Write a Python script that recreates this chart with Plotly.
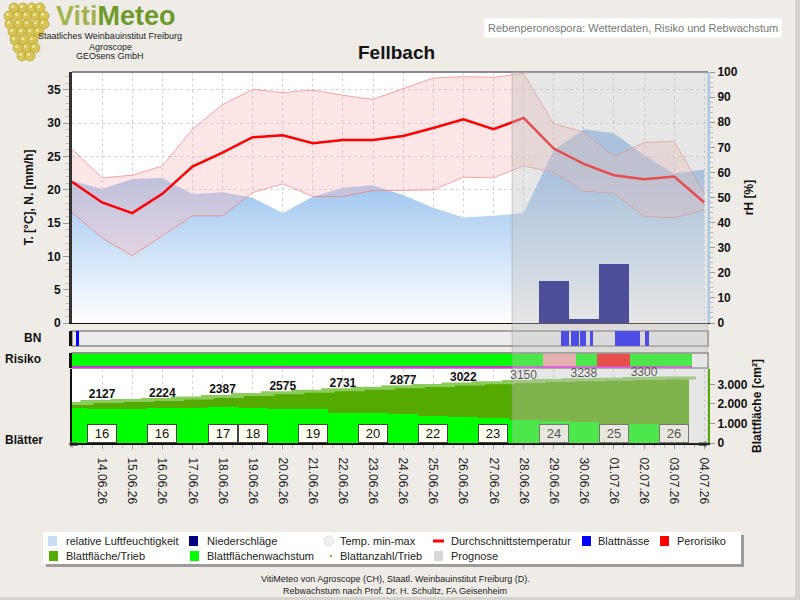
import plotly.graph_objects as go
import pandas as pd

FONT = "Liberation Sans, Arial, sans-serif"

# ---------------- data ----------------
dates = [d.strftime("%Y-%m-%d") for d in pd.date_range("2026-06-13", "2026-07-04", freq="D")]
tick_dates = dates[1:]
tick_text = [pd.Timestamp(d).strftime("%d.%m.%y") for d in tick_dates]
x_range = ["2026-06-13 00:00", "2026-07-04 03:00"]
prognose_start = "2026-06-27 14:50"

t_avg = [21.2, 18.1, 16.5, 19.4, 23.5, 25.6, 27.9, 28.2, 27.0, 27.5, 27.5,
         28.1, 29.3, 30.6, 29.1, 30.8, 26.2, 23.9, 22.2, 21.6, 22.0, 18.1]
t_max = [26.1, 21.8, 22.2, 23.6, 29.1, 32.8, 35.1, 34.6, 35.0, 34.2, 33.6,
         35.2, 36.8, 37.0, 36.9, 37.5, 29.9, 28.7, 25.0, 27.1, 27.3, 19.5]
t_min = [16.6, 12.8, 10.1, 13.1, 16.1, 16.1, 19.6, 20.9, 19.0, 19.0, 19.9,
         19.9, 20.0, 21.9, 21.8, 23.6, 22.6, 19.8, 19.5, 16.0, 15.8, 17.0]
rel_hum = [56.7, 53.4, 57.4, 57.8, 51.4, 52.1, 49.9, 43.8, 50.3, 53.9, 54.9,
           51.0, 45.9, 42.0, 42.7, 43.7, 68.9, 77.2, 75.6, 66.9, 59.6, 61.2]
precip_dates = ["2026-06-29", "2026-06-30", "2026-07-01"]
precip = [6.3, 0.6, 8.9]

leaf_dates = dates[:21]
leaf_area = [2025, 2127, 2175, 2224, 2305, 2387, 2480, 2575, 2655, 2731, 2805,
             2877, 2950, 3022, 3088, 3150, 3196, 3238, 3270, 3300, 3325]
leaf_growth = [94, 91, 91, 95, 95, 98, 94, 91, 91, 82, 80,
               78, 74, 71, 68, 62, 59, 56, 50, 52, 47]
label_idx = list(range(1, 21, 2))

leaf_count_dates = ["2026-06-14", "2026-06-16", "2026-06-18", "2026-06-19", "2026-06-21",
                    "2026-06-23", "2026-06-25", "2026-06-27", "2026-06-29", "2026-07-01", "2026-07-03"]
leaf_count = [16, 16, 17, 18, 19, 20, 22, 23, 24, 25, 26]

bn_start = ["2026-06-13 03:00", "2026-06-29 06:00", "2026-06-29 14:00", "2026-06-29 21:00",
            "2026-06-30 05:00", "2026-07-01 01:00", "2026-07-02 01:00"]
bn_end = ["2026-06-13 05:30", "2026-06-29 12:15", "2026-06-29 20:00", "2026-06-30 02:00",
          "2026-06-30 07:30", "2026-07-01 21:00", "2026-07-02 04:00"]

risk_start = ["2026-06-13 00:00", "2026-06-27 14:50", "2026-06-28 15:30",
              "2026-06-29 17:45", "2026-06-30 10:30", "2026-07-01 13:00"]
risk_end = ["2026-06-27 14:50", "2026-06-28 15:30", "2026-06-29 17:45",
            "2026-06-30 10:30", "2026-07-01 13:00", "2026-07-03 14:30"]
risk_level = [0, 0, 1, 0, 2, 0]
risk_colors = {0: "#00ff00", 1: "#faa5a5", 2: "#ff0000"}

legend_row1 = ["relative Luftfeuchtigkeit", "Niederschläge", "Temp. min-max",
               "Durchschnittstemperatur", "Blattnässe", "Perorisiko"]
legend_row2 = ["Blattfläche/Trieb", "Blattflächenwachstum", "Blattanzahl/Trieb", "Prognose"]

DAY_MS = 86400000


def dur_ms(s, e):
    return (pd.Timestamp(e) - pd.Timestamp(s)).total_seconds() * 1000


def px(x):
    return x / 800.0


def py(y):
    return 1 - y / 600.0


XD = [px(72), px(708)]
fig = go.Figure()

# ---- main plot ----
fig.add_trace(go.Scatter(x=dates, y=rel_hum, xaxis="x", yaxis="y", mode="lines",
                         line=dict(width=0), fill="tozeroy",
                         fillgradient=dict(type="vertical", start=0, stop=58,
                                           colorscale=[[0, "#ffffff"], [1, "#9cc4ee"]]),
                         showlegend=False, hoverinfo="skip"))
fig.add_trace(go.Bar(x=precip_dates, y=precip, width=DAY_MS, xaxis="x", yaxis="y2",
                     marker=dict(color="#000080", line=dict(width=0)), showlegend=False))
fig.add_trace(go.Scatter(x=dates, y=t_max, xaxis="x", yaxis="y2", mode="lines",
                         line=dict(color="rgba(240,110,110,0.6)", width=1), showlegend=False))
fig.add_trace(go.Scatter(x=dates, y=t_min, xaxis="x", yaxis="y2", mode="lines",
                         line=dict(color="rgba(240,110,110,0.6)", width=1), fill="tonexty",
                         fillcolor="rgba(255,185,185,0.36)", showlegend=False))
fig.add_trace(go.Scatter(x=dates, y=t_avg, xaxis="x", yaxis="y2", mode="lines",
                         line=dict(color="#ff0000", width=2.5), showlegend=False))

# ---- BN row ----
fig.add_trace(go.Bar(x=bn_start, y=[1] * len(bn_start), base=0, offset=0,
                     width=[dur_ms(s, e) for s, e in zip(bn_start, bn_end)],
                     xaxis="x2", yaxis="y3", marker=dict(color="#0000ff", line=dict(width=0)),
                     showlegend=False))

# ---- risk row ----
fig.add_trace(go.Bar(x=risk_start, y=[1] * len(risk_start), base=0, offset=0,
                     width=[dur_ms(s, e) for s, e in zip(risk_start, risk_end)],
                     xaxis="x3", yaxis="y4",
                     marker=dict(color=[risk_colors[r] for r in risk_level], line=dict(width=0)),
                     showlegend=False))
fig.add_trace(go.Scatter(x=[risk_start[0], risk_end[-1]], y=[0, 0], xaxis="x3", yaxis="y4",
                         mode="lines", line=dict(color="#ff00ff", width=1.5), showlegend=False))

# ---- leaf plot ----
fig.add_trace(go.Bar(x=leaf_dates, y=leaf_area, width=DAY_MS, xaxis="x4", yaxis="y5",
                     marker=dict(color="#55aa00", line=dict(width=0)), showlegend=False))
fig.add_trace(go.Scatter(x=leaf_dates, y=leaf_area, xaxis="x4", yaxis="y5", mode="markers",
                         marker=dict(symbol="line-ew", size=31, color="#8ccc5c",
                                     line=dict(color="#8ccc5c", width=3)),
                         showlegend=False))
fig.add_trace(go.Scatter(x=[leaf_dates[i] for i in label_idx], y=[leaf_area[i] for i in label_idx],
                         xaxis="x4", yaxis="y5", mode="text",
                         text=[(f"<b>{leaf_area[i]}</b>" if leaf_dates[i] < prognose_start
                                else f"{leaf_area[i]}") for i in label_idx],
                         textposition="top center",
                         textfont=dict(family=FONT, size=12, color="#111"),
                         showlegend=False, cliponaxis=False))
fig.add_trace(go.Bar(x=leaf_dates, y=leaf_growth, width=DAY_MS, xaxis="x4", yaxis="y6",
                     marker=dict(color="#00ff00", line=dict(width=0)), showlegend=False))

tickfont_b = dict(family=FONT, size=12, color="#111", weight="bold")
titlefont_b = dict(family=FONT, size=12, color="#111", weight="bold")

fig.update_layout(
    width=800, height=600, margin=dict(l=0, r=0, t=0, b=0, autoexpand=False),
    paper_bgcolor="#efece8", plot_bgcolor="#ffffff",
    barmode="overlay", bargap=0, separators=",.",
    font=dict(family=FONT, size=12, color="#111"),
    showlegend=False,
    xaxis=dict(domain=XD, type="date", range=x_range, anchor="y",
               tickvals=tick_dates, showticklabels=False, ticks="",
               showgrid=True, gridcolor="#d4d4d4", griddash="dot", gridwidth=1,
               showline=True, linecolor="#111", linewidth=1, zeroline=False),
    xaxis2=dict(domain=XD, type="date", matches="x", anchor="y3", showticklabels=False,
                ticks="", showgrid=False, showline=False, zeroline=False),
    xaxis3=dict(domain=XD, type="date", matches="x", anchor="y4", showticklabels=False,
                ticks="", showgrid=False, showline=False, zeroline=False),
    xaxis4=dict(domain=XD, type="date", matches="x", anchor="y5",
                tickvals=tick_dates, ticktext=tick_text, tickangle=90,
                tickfont=dict(family=FONT, size=12, color="#222"),
                ticks="outside", ticklen=4, tickcolor="#999", ticklabelstandoff=6,
                minor=dict(ticks="outside", ticklen=3, tickcolor="#bbb", dtick=28800000),
                showgrid=True, gridcolor="#d4d4d4", griddash="dot",
                showline=True, linecolor="#111", linewidth=2, zeroline=False),
    yaxis=dict(domain=[py(323), py(72)], anchor="x", side="right", range=[0, 100],
               tickvals=list(range(0, 101, 10)), ticks="outside", ticklen=5, tickcolor="#999",
               tickfont=tickfont_b, showgrid=False, zeroline=False,
               showline=True, linecolor="#a8c8ec", linewidth=2,
               minor=dict(ticks="outside", ticklen=3, tickcolor="#bbb", dtick=2),
               title=dict(text="rH [%]", font=titlefont_b, standoff=8)),
    yaxis2=dict(overlaying="y", anchor="x", side="left", range=[0, 37.7], dtick=5,
                ticks="outside", ticklen=6, tickcolor="#999", tickfont=tickfont_b,
                showgrid=True, gridcolor="#d4d4d4", griddash="dot", zeroline=False,
                showline=True, linecolor="#333", linewidth=3,
                minor=dict(ticks="outside", ticklen=3, tickcolor="#bbb", dtick=1),
                title=dict(text="T. [°C], N. [mm/h]", font=titlefont_b, standoff=12)),
    yaxis3=dict(domain=[py(346), py(331)], anchor="x2", range=[0, 1], showticklabels=False,
                ticks="", showgrid=False, zeroline=False,
                showline=True, linecolor="#111", linewidth=3),
    yaxis4=dict(domain=[py(368), py(353)], anchor="x3", range=[-0.08, 1], showticklabels=False,
                ticks="", showgrid=False, zeroline=False,
                showline=True, linecolor="#111", linewidth=3),
    yaxis5=dict(domain=[py(443), py(369)], anchor="x4", side="right", range=[0, 3790],
                tickvals=[0, 1000, 2000, 3000], tickformat=",.0f",
                ticks="outside", ticklen=5, tickcolor="#999", tickfont=tickfont_b,
                showgrid=False, zeroline=False,
                showline=True, linecolor="#55aa00", linewidth=2,
                title=dict(text="Blattfläche [cm²]", font=titlefont_b, standoff=6)),
    yaxis6=dict(overlaying="y5", anchor="x4", side="left", range=[0, 200],
                showticklabels=False, ticks="", showgrid=False, zeroline=False,
                showline=True, linecolor="#111", linewidth=2),
)

shapes = []
# row backgrounds
shapes.append(dict(type="rect", xref="x2 domain", yref="y3 domain", x0=0, x1=1, y0=0, y1=1,
                   fillcolor="#ececec", line=dict(color="#8a8a8a", width=1.5), layer="below"))
shapes.append(dict(type="rect", xref="x3 domain", yref="y4 domain", x0=0, x1=1, y0=0, y1=1,
                   fillcolor="#ffffff", line=dict(color="#8a8a8a", width=1.5), layer="below"))
shapes.append(dict(type="line", xref="x3 domain", yref="y4 domain", x0=0, x1=1, y0=1, y1=1,
                   line=dict(color="#8a8a8a", width=1.5), layer="above"))
# main plot top border
shapes.append(dict(type="line", xref="x domain", yref="y domain", x0=0, x1=1, y0=1, y1=1,
                   line=dict(color="#8a8a8a", width=2), layer="above"))
# prognose overlay
shapes.append(dict(type="rect", xref="x", yref="paper", x0=prognose_start, x1=x_range[1],
                   y0=py(443), y1=py(72), fillcolor="rgba(192,192,192,0.4)",
                   line=dict(color="rgba(150,150,150,0.45)", width=1), layer="above"))
# page edges
shapes.append(dict(type="rect", xref="paper", yref="paper", x0=px(795), x1=1, y0=0, y1=1,
                   fillcolor="#d6d3cf", line=dict(width=0), layer="below"))
shapes.append(dict(type="rect", xref="paper", yref="paper", x0=0, x1=1, y0=0, y1=py(597),
                   fillcolor="#d6d3cf", line=dict(width=0), layer="below"))

# logo grapes (decorative)
grape_rows = [(8, [14, 23, 32, 40]), (16, [9, 18, 27, 36, 44]), (24, [10, 19, 28, 37, 44]),
              (32, [13, 22, 31, 39]), (40, [15, 24, 33]), (48, [18, 27, 35]), (56, [22, 30])]
for gy, gxs in grape_rows:
    for gx in gxs:
        shapes.append(dict(type="circle", xref="paper", yref="paper",
                           x0=px(gx - 5), x1=px(gx + 5), y0=py(gy + 5), y1=py(gy - 5),
                           fillcolor="#d6c454", line=dict(color="#b29a32", width=0.6),
                           layer="below"))
        shapes.append(dict(type="circle", xref="paper", yref="paper",
                           x0=px(gx - 3), x1=px(gx), y0=py(gy), y1=py(gy - 3),
                           fillcolor="#f1e8a6", line=dict(width=0), layer="below"))

# legend box
shapes.append(dict(type="rect", xref="paper", yref="paper", x0=px(46), x1=px(744),
                   y0=py(567), y1=py(535), fillcolor="rgba(60,60,60,0.45)",
                   line=dict(width=0), layer="below"))
shapes.append(dict(type="rect", xref="paper", yref="paper", x0=px(43), x1=px(741),
                   y0=py(564), y1=py(532), fillcolor="#ffffff", line=dict(width=0),
                   layer="below"))

annotations = []
row1_sym = [48, 189, 324, 433, 582, 660]
row1_txt = [64, 205, 338, 449, 596, 675]
row1_style = [("sq", "#c6ddf4"), ("sq", "#000080"), ("circ", "#f0f0f0"), ("line", "#ff0000"),
              ("sq", "#0000ff"), ("sq", "#ff0000")]
row2_sym = [49, 190, 327, 434]
row2_txt = [64, 205, 338, 449]
row2_style = [("sq", "#55aa00"), ("sq", "#00ff00"), ("dot", "#55aa00"), ("sq", "#d8d8d8")]


def legend_item(label, sx, tx, style, yc):
    kind, col = style
    if kind == "sq":
        shapes.append(dict(type="rect", xref="paper", yref="paper", x0=px(sx), x1=px(sx + 9),
                           y0=py(yc + 5), y1=py(yc - 5), fillcolor=col,
                           line=dict(width=0), layer="above"))
    elif kind == "circ":
        shapes.append(dict(type="circle", xref="paper", yref="paper", x0=px(sx), x1=px(sx + 10),
                           y0=py(yc + 5), y1=py(yc - 5), fillcolor=col,
                           line=dict(color="#e4e4e4", width=1), layer="above"))
    elif kind == "line":
        shapes.append(dict(type="line", xref="paper", yref="paper", x0=px(sx), x1=px(sx + 11),
                           y0=py(yc), y1=py(yc), line=dict(color=col, width=3), layer="above"))
    elif kind == "dot":
        shapes.append(dict(type="circle", xref="paper", yref="paper", x0=px(sx + 3), x1=px(sx + 5),
                           y0=py(yc + 1), y1=py(yc - 1), fillcolor=col,
                           line=dict(width=0), layer="above"))
    annotations.append(dict(xref="paper", yref="paper", x=px(tx), y=py(yc), text=label,
                            showarrow=False, xanchor="left", yanchor="middle",
                            font=dict(family=FONT, size=11, color="#222")))


for lab, sx, tx, st in zip(legend_row1, row1_sym, row1_txt, row1_style):
    legend_item(lab, sx, tx, st, 541)
for lab, sx, tx, st in zip(legend_row2, row2_sym, row2_txt, row2_style):
    legend_item(lab, sx, tx, st, 556)

# titles and header
annotations += [
    dict(xref="paper", yref="paper", x=px(396), y=py(52), text="<b>Fellbach</b>", showarrow=False,
         font=dict(family=FONT, size=19, color="#111"), xanchor="center", yanchor="middle"),
    dict(xref="paper", yref="paper", x=px(633), y=py(28),
         text="Rebenperonospora: Wetterdaten, Risiko und Rebwachstum", showarrow=False,
         font=dict(family=FONT, size=11, color="#777"), bgcolor="#ffffff", borderpad=3,
         xanchor="center", yanchor="middle"),
    dict(xref="paper", yref="paper", x=px(116), y=1, borderpad=0,
         text="<b><span style='color:#a3b44e'>Viti</span><span style='color:#6f9a2a'>Meteo</span></b>",
         showarrow=False, font=dict(family=FONT, size=27), xanchor="center", yanchor="top"),
    dict(xref="paper", yref="paper", x=px(110), y=py(36.5), text="Staatliches Weinbauinstitut Freiburg",
         showarrow=False, font=dict(family=FONT, size=9, color="#222"), xanchor="center", yanchor="middle"),
    dict(xref="paper", yref="paper", x=px(110), y=py(46.5), text="Agroscope",
         showarrow=False, font=dict(family=FONT, size=9, color="#222"), xanchor="center", yanchor="middle"),
    dict(xref="paper", yref="paper", x=px(110), y=py(56), text="GEOsens GmbH",
         showarrow=False, font=dict(family=FONT, size=9, color="#222"), xanchor="center", yanchor="middle"),
    dict(xref="paper", yref="paper", x=px(43), y=py(338), text="<b>BN</b>", showarrow=False,
         font=dict(family=FONT, size=12, color="#111"), xanchor="right", yanchor="middle"),
    dict(xref="paper", yref="paper", x=px(43), y=py(359), text="<b>Risiko</b>", showarrow=False,
         font=dict(family=FONT, size=12, color="#111"), xanchor="right", yanchor="middle"),
    dict(xref="paper", yref="paper", x=px(3), y=py(440), text="<b>Blätter</b>", showarrow=False,
         font=dict(family=FONT, size=12, color="#111"), xanchor="left", yanchor="middle"),
    dict(xref="paper", yref="paper", x=px(395), y=py(579),
         text="VitiMeteo von Agroscope (CH), Staatl. Weinbauinstitut Freiburg (D).", showarrow=False,
         font=dict(family=FONT, size=9, color="#222"), xanchor="center", yanchor="middle"),
    dict(xref="paper", yref="paper", x=px(395), y=py(591),
         text="Rebwachstum nach Prof. Dr. H. Schultz, FA Geisenheim", showarrow=False,
         font=dict(family=FONT, size=9, color="#222"), xanchor="center", yanchor="middle"),
    dict(xref="paper", yref="paper", x=px(73), y=py(443), text="⇦", showarrow=False,
         font=dict(family="DejaVu Sans", size=13, color="#555"), xanchor="center", yanchor="middle"),
    dict(xref="paper", yref="paper", x=px(703), y=py(443), text="⇨", showarrow=False,
         font=dict(family="DejaVu Sans", size=13, color="#555"), xanchor="center", yanchor="middle"),
]

# leaf count boxes
for d, n in zip(leaf_count_dates, leaf_count):
    prog = d > prognose_start
    annotations.append(dict(xref="x4", yref="paper", x=d, y=py(433), text=str(n), showarrow=False,
                            font=dict(family=FONT, size=13, color="#555" if prog else "#111"),
                            bgcolor="#e7e7dd" if prog else "#fffff0",
                            bordercolor="#777" if prog else "#444", borderwidth=1, borderpad=2,
                            width=24, height=13, xanchor="center", yanchor="middle"))

fig.update_layout(shapes=shapes, annotations=annotations)
fig.write_html("out.html")
